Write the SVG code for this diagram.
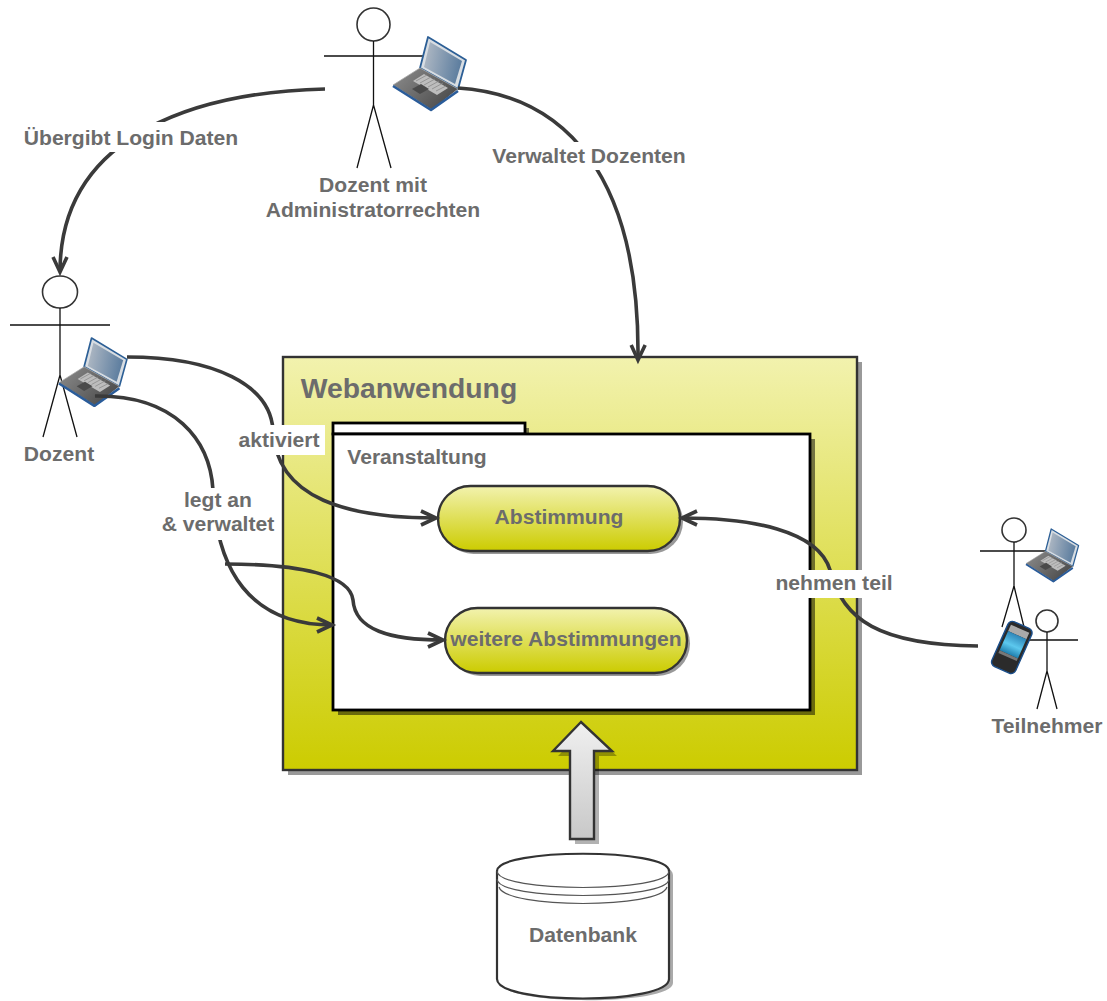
<svg xmlns="http://www.w3.org/2000/svg" xmlns:xlink="http://www.w3.org/1999/xlink" width="1107" height="1001" viewBox="0 0 1107 1001">
<style>
text{font-family:"Liberation Sans",Arial,sans-serif;font-weight:bold;fill:#6c6c6c;text-anchor:middle;font-size:21.1px}
.st{fill:none;stroke:#111;stroke-width:1.3}
.head{fill:#fff;stroke:#333;stroke-width:1.6}
.c{fill:none;stroke:#3a3a3a;stroke-width:3.6}
.box{stroke:#333;stroke-width:2.4}
.w{fill:#fff;stroke:#000;stroke-width:2.8}
.sh{fill:#999}
.lb{fill:#fff}
</style>
<defs>
<linearGradient id="y" x1="0" y1="0" x2="0" y2="1"><stop offset="0" stop-color="#f2f2ae"/><stop offset="1" stop-color="#cccc00"/></linearGradient>
<linearGradient id="g" x1="0" y1="0" x2="0" y2="1"><stop offset="0" stop-color="#f0f0f0"/><stop offset="1" stop-color="#c8c8c8"/></linearGradient>
<linearGradient id="scr" x1="0" y1="0" x2="1" y2="0.2"><stop offset="0" stop-color="#b4bcc6"/><stop offset="1" stop-color="#5f7fa0"/></linearGradient>
<linearGradient id="kb" x1="0" y1="0" x2="1" y2="0.6"><stop offset="0" stop-color="#8e8e8e"/><stop offset="1" stop-color="#4c4c4c"/></linearGradient>
<linearGradient id="ph" x1="0" y1="0" x2="0" y2="1"><stop offset="0" stop-color="#2f86b8"/><stop offset="0.55" stop-color="#5cc8ee"/><stop offset="1" stop-color="#1f7fae"/></linearGradient>
<marker id="a" markerUnits="userSpaceOnUse" markerWidth="22" markerHeight="22" refX="16" refY="10" orient="auto"><path d="M1,3 L16,10 L1,17" fill="none" stroke="#3a3a3a" stroke-width="3.6"/></marker>
<g id="laptop">
<polygon points="35,0 73,23 65,52 27,31" fill="#d8dde2" stroke="#2c5f96" stroke-width="1.8" stroke-linejoin="round"/>
<polygon points="37,5 69,24 62,47 31,30" fill="url(#scr)"/>
<polygon points="0,48 27,31 65,52 39,73" fill="url(#kb)" stroke="#a8a8a8" stroke-width="0.8" stroke-linejoin="round"/>
<polygon points="20,44 31,37 55,51 44,58" fill="#bdbdbd"/>
<path d="M23,44 L34,38 M27,46 L38,40 M31,48 L42,42 M35,50 L46,44 M39,52 L50,46 M43,54 L53,49" stroke="#8a8a8a" stroke-width="0.8" fill="none"/>
<polygon points="19,52 28,47 36,52 27,57" fill="#4a4a4a"/>
<path d="M0,49 L38,73 L65,54" fill="none" stroke="#2a5c9a" stroke-width="2.6" stroke-linejoin="round"/>
</g>
</defs>

<g id="webanwendung">
<rect class="sh" x="288" y="362" width="574" height="413"/>
<rect x="283" y="357" width="574" height="413" fill="url(#y)" class="box"/>
<text x="409" y="398" style="font-size:28.3px">Webanwendung</text>
</g>

<g id="veranstaltung">
<rect x="338" y="439" width="477" height="276" fill="#000" opacity="0.5"/>
<rect x="526" y="428" width="3" height="7" fill="#000" opacity="0.5"/>
<rect class="w" x="333" y="423" width="192" height="11"/>
<rect class="w" x="333" y="434" width="477" height="276"/>
<text x="417" y="464">Veranstaltung</text>
</g>

<g id="abstimmung">
<rect x="441" y="489" width="242" height="65" rx="32.5" fill="#999"/>
<rect x="438" y="486" width="242" height="65" rx="32.5" fill="url(#y)" class="box"/>
<text x="559" y="524">Abstimmung</text>
</g>
<g id="weitere">
<rect x="448" y="611" width="242" height="65" rx="32.5" fill="#999"/>
<rect x="445" y="608" width="242" height="65" rx="32.5" fill="url(#y)" class="box"/>
<text x="566" y="646">weitere Abstimmungen</text>
</g>

<g id="admin">
<circle class="head" cx="373.500" cy="24.500" r="16.500"/>
<path class="st" d="M373.500,41 V105 M324,56 H423 M373.500,105 L357,168 M373.500,105 L391,168"/>
<use xlink:href="#laptop" href="#laptop" x="393" y="37"/>
<text x="373" y="192">Dozent mit</text>
<text x="373" y="217">Administratorrechten</text>
</g>

<g id="dozent">
<ellipse class="head" cx="60" cy="292" rx="17.500" ry="16"/>
<path class="st" d="M60,308 V375 M10,325 H110 M60,375 L43,437 M60,375 L77,437"/>
<use xlink:href="#laptop" href="#laptop" transform="translate(59,338) scale(0.93)"/>
<text x="59" y="461">Dozent</text>
</g>

<g id="teilnehmer">
<circle class="head" cx="1014" cy="530" r="12"/>
<path class="st" d="M1014,542 V586 M980,551 H1045 M1014,586 L1002,627 M1014,586 L1024,627"/>
<use xlink:href="#laptop" href="#laptop" transform="translate(1026,529) scale(0.72)"/>
<circle class="head" cx="1047" cy="621" r="11"/>
<path class="st" d="M1047,632 V671 M1025,640 H1078 M1047,671 L1037,709 M1047,671 L1057,709"/>
<g id="phone" transform="translate(1012,647) rotate(24)">
<rect x="-13" y="-24" width="26" height="49" rx="5" fill="#2b2b2b" stroke="#1b4f8c" stroke-width="1.4"/>
<rect x="-10" y="-20" width="20" height="7" fill="#aaa"/>
<rect x="-10" y="-13" width="20" height="21" fill="url(#ph)"/>
<rect x="-10" y="8" width="20" height="3" fill="#777"/>
</g>
<text x="1047" y="733">Teilnehmer</text>
</g>

<g id="upload-arrow">
<polygon points="586,727 558,756 575,756 575,844 599,844 599,756 617,756" fill="#000" opacity="0.3"/>
<polygon points="581,722 553,751 570,751 570,839 594,839 594,751 612,751" fill="url(#g)" stroke="#333" stroke-width="2.4" stroke-linejoin="miter"/>
</g>

<g id="datenbank">
<path d="M501,875 C501,849 673,849 673,875 V983 C673,1006 501,1006 501,983 Z" fill="#aaa"/>
<path d="M497,871 C497,848 669,848 669,871 V979 C669,1005 497,1005 497,979 Z" fill="#fff" stroke="#333" stroke-width="2.2"/>
<path d="M497,871 C497,893 669,893 669,871 M497,879 C497,901 669,901 669,879 M499,887 C505,909 661,909 667,887" fill="none" stroke="#555" stroke-width="1.2"/>
<text x="583" y="942">Datenbank</text>
</g>

<g id="connectors">
<path class="c" d="M325,89 C205,92 60,130 60,272" marker-end="url(#a)"/>
<path class="c" d="M458,88 C565,95 640,175 638,360" marker-end="url(#a)"/>
<path class="c" d="M127,357 C215,357 270,385 273,430 C276,500 350,518 436,518" marker-end="url(#a)"/>
<path class="c" d="M95,396 C175,395 210,440 213,490 C216,570 250,625 332,625" marker-end="url(#a)"/>
<path class="c" d="M225,564 C300,564 350,575 353,600 C355,630 390,640 443,640" marker-end="url(#a)"/>
<path class="c" d="M978,646 C880,645 842,620 830,570 C818,530 750,518 682,518" marker-end="url(#a)"/>
</g>

<g id="labels">
<rect class="lb" x="22" y="122" width="218" height="30"/>
<text x="131" y="145">Übergibt Login Daten</text>
<rect class="lb" x="490" y="142" width="199" height="28"/>
<text x="589" y="163">Verwaltet Dozenten</text>
<rect class="lb" x="238" y="425" width="87" height="30"/>
<text x="279" y="447">aktiviert</text>
<rect class="lb" x="162" y="488" width="112" height="52"/>
<text x="218" y="507">legt an</text>
<text x="218" y="531">&amp; verwaltet</text>
<rect class="lb" x="773" y="570" width="122" height="28"/>
<text x="834" y="590">nehmen teil</text>
</g>
</svg>
